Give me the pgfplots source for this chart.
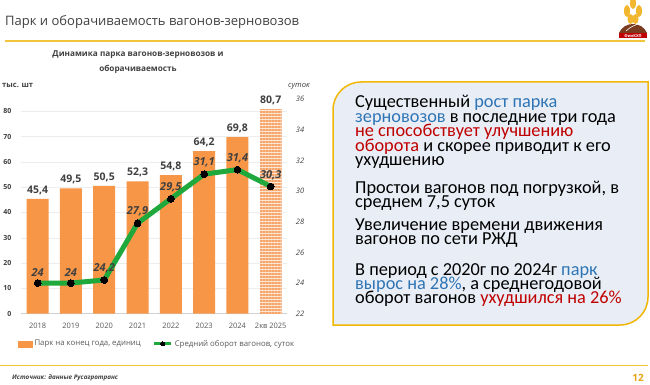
\documentclass[border=0pt]{standalone}
\usepackage{pgfplots}
\pgfplotsset{compat=1.18}
\usepackage{fontspec}
\setmainfont{Open Sans}
\newfontfamily\boxfont{Carlito}
\usetikzlibrary{patterns.meta}
\definecolor{barorange}{HTML}{F79646}
\definecolor{peach}{HTML}{FDE6D3}
\definecolor{stripe}{HTML}{F6A469}
\definecolor{lgreen}{HTML}{1FA83C}
\definecolor{labgray}{HTML}{404040}
\definecolor{tickgray}{HTML}{595959}
\definecolor{goldline}{HTML}{F2C43A}
\definecolor{boxborder}{HTML}{F2B705}
\definecolor{boxfill}{HTML}{E9EEF6}
\definecolor{tblue}{HTML}{2E75B6}
\definecolor{tred}{HTML}{C00000}
\definecolor{pagenum}{HTML}{E8A317}
\definecolor{brownhill}{HTML}{7A3B1E}
\definecolor{wheat}{HTML}{F2B72E}
\pgfplotsset{/pgf/number format/assume math mode=true}
\begin{document}
\begin{tikzpicture}[x=1pt,y=-1pt]
\useasboundingbox (0,0) rectangle (650,385);
\fill[white] (0,0) rectangle (650,385);
% header
\node[anchor=base west, inner sep=0, font=\fontsize{13}{15}\selectfont, text=labgray] at (5,26) {Парк и оборачиваемость вагонов-зерновозов};
\draw[goldline, line width=1.2pt] (5,41) -- (645,41);
% logo
\fill[wheat] (633,3) ellipse (3 and 6);
\fill[wheat] (627,11) ellipse (3 and 6);
\fill[wheat] (639,11) ellipse (3 and 6);
\fill[wheat] (630.5,19) ellipse (3 and 5);
\fill[wheat] (635.5,19) ellipse (3 and 5);
\fill[brownhill] (619,33) .. controls (624,21) and (642,21) .. (647,33) -- cycle;
\draw[white, line width=0.6pt] (626,31) .. controls (631,26) and (636,25) .. (640,23);
\fill[tred] (619,33) rectangle (647,38.5);
\node[font=\fontsize{4}{4}\selectfont\bfseries, text=white, inner sep=0] at (633,35.8) {ФинКХП};
% chart titles
\node[anchor=base, inner sep=0, font=\bfseries\fontsize{8.2}{10}\selectfont, text=labgray] at (138,57) {Динамика парка вагонов-зерновозов и};
\node[anchor=base, inner sep=0, font=\bfseries\fontsize{8.2}{10}\selectfont, text=labgray] at (138,71.5) {оборачиваемость};
\node[anchor=base west, inner sep=0, font=\bfseries\fontsize{7.6}{8}\selectfont, text=labgray] at (2,88) {тыс. шт};
\node[anchor=base west, inner sep=0, font=\itshape\fontsize{7.6}{8}\selectfont, text=labgray] at (288,88) {суток};
% bars axis
\begin{axis}[
  at={(21pt,-313.7pt)}, anchor=south west,
  width=266.4pt, height=214.6pt, scale only axis,
  xmin=-0.5, xmax=7.5, ymin=0, ymax=84.8,
  ytick={0,10,...,80},
  xtick={0,...,7},
  xticklabels={2018,2019,2020,2021,2022,2023,2024,2кв 2025},
  axis x line*=bottom, axis y line*=left,
  y axis line style={draw=none},
  x axis line style={draw=black!18, line width=0.6pt, -},
  major tick length=0pt,
  ymajorgrids, grid style={draw=black!7, line width=0.5pt},
  yticklabel style={font=\bfseries\fontsize{7}{8}\selectfont, text=labgray, xshift=-6pt},
  xticklabel style={font=\fontsize{7.5}{8}\selectfont, text=tickgray, yshift=-6pt},
  every node near coord/.append style={font=\bfseries\fontsize{10.5}{12}\selectfont, text=labgray, inner sep=1pt, yshift=3pt},
  nodes near coords={\pgfmathprintnumber[fixed,fixed zerofill,precision=1,use comma]{\pgfplotspointmeta}},
]
\addplot[ybar, bar width=22pt, bar shift=0pt, fill=barorange, draw=none] coordinates {
  (0,45.4) (1,49.5) (2,50.5) (3,52.3) (4,54.8) (5,64.2) (6,69.8)};
\addplot[ybar, bar width=22pt, bar shift=0pt, draw=none,
  preaction={fill=peach},
  pattern={Lines[angle=0,distance=3pt,line width=1.4pt]}, pattern color=stripe] coordinates {(7,80.7)};
\end{axis}
% line axis
\begin{axis}[
  at={(21pt,-313.7pt)}, anchor=south west,
  width=266.4pt, height=214.6pt, scale only axis,
  xmin=-0.5, xmax=7.5, ymin=22, ymax=36,
  ytick={22,24,...,36},
  axis y line*=right, axis x line=none,
  y axis line style={draw=none},
  major tick length=0pt,
  yticklabel style={font=\itshape\fontsize{7.5}{8}\selectfont, text=labgray, xshift=5pt},
  every node near coord/.append style={font=\bfseries\itshape\fontsize{11}{12}\selectfont, text=labgray, inner sep=1pt, yshift=6pt},
  legend style={at={(0.51,-0.141)}, anchor=center, draw=none, fill=none,
    font=\fontsize{7.8}{9}\selectfont, text=tickgray, legend columns=2,
    /tikz/every even column/.append style={column sep=10pt},
    legend cell align=left, inner sep=0pt},
]
\addlegendimage{legend image code/.code={\fill[barorange] (0pt,-2.8pt) rectangle (14.5pt,2.8pt);}}
\addlegendentry{Парк на конец года, единиц}
\addplot[lgreen, line width=5pt, mark=*, mark size=3.4pt,
  mark options={fill=black, draw=black, line width=0pt},
  nodes near coords={\pgfmathprintnumber[use comma]{\pgfplotspointmeta}},
  legend image code/.code={\draw[lgreen, line width=3pt] (0pt,0pt) -- (17pt,0pt); \fill[black, line width=0pt] (8.5pt,0pt) circle[radius=2pt];}]
  coordinates {(0,24) (1,24) (2,24.2) (3,27.9) (4,29.5) (5,31.1) (6,31.4) (7,30.3)};
\addlegendentry{Средний оборот вагонов, суток}
\end{axis}
% bottom
\draw[goldline, line width=1pt] (0,365) -- (648,365);
\node[anchor=base west, inner sep=0, font=\bfseries\itshape\fontsize{6.3}{7}\selectfont, text=labgray] at (12,379) {Источник: данные Русагротранс};
\node[anchor=base, inner sep=0, font=\bfseries\fontsize{10}{11}\selectfont, text=pagenum] at (638,381) {12};
% text box
\draw[boxborder, line width=1.5pt, fill=boxfill] (333,325) -- (333,110) arc[start angle=180, end angle=270, radius=28] -- (648,82) -- (648,297) arc[start angle=0, end angle=90, radius=28] -- cycle;
\begin{scope}[every node/.style={anchor=base west, inner sep=0, font=\boxfont\fontsize{18.3}{16}\selectfont, text=black}]
\node at (355,107.5) {Существенный \textcolor{tblue}{рост парка}};
\node at (355,122) {\textcolor{tblue}{зерновозов} в последние три года};
\node at (355,136.5) {\textcolor{tred}{не способствует улучшению}};
\node at (355,151) {\textcolor{tred}{оборота} и скорее приводит к его};
\node at (355,165.5) {ухудшению};
\node at (355,193.3) {Простои вагонов под погрузкой, в};
\node at (355,207.7) {среднем 7,5 суток};
\node at (355,230) {Увеличение времени движения};
\node at (355,244.3) {вагонов по сети РЖД};
\node at (355,275) {В период с 2020г по 2024г \textcolor{tblue}{парк}};
\node at (355,289.3) {\textcolor{tblue}{вырос на 28\%}, а среднегодовой};
\node at (355,303.3) {оборот вагонов \textcolor{tred}{ухудшился на 26\%}};
\end{scope}
\end{tikzpicture}
\end{document}
